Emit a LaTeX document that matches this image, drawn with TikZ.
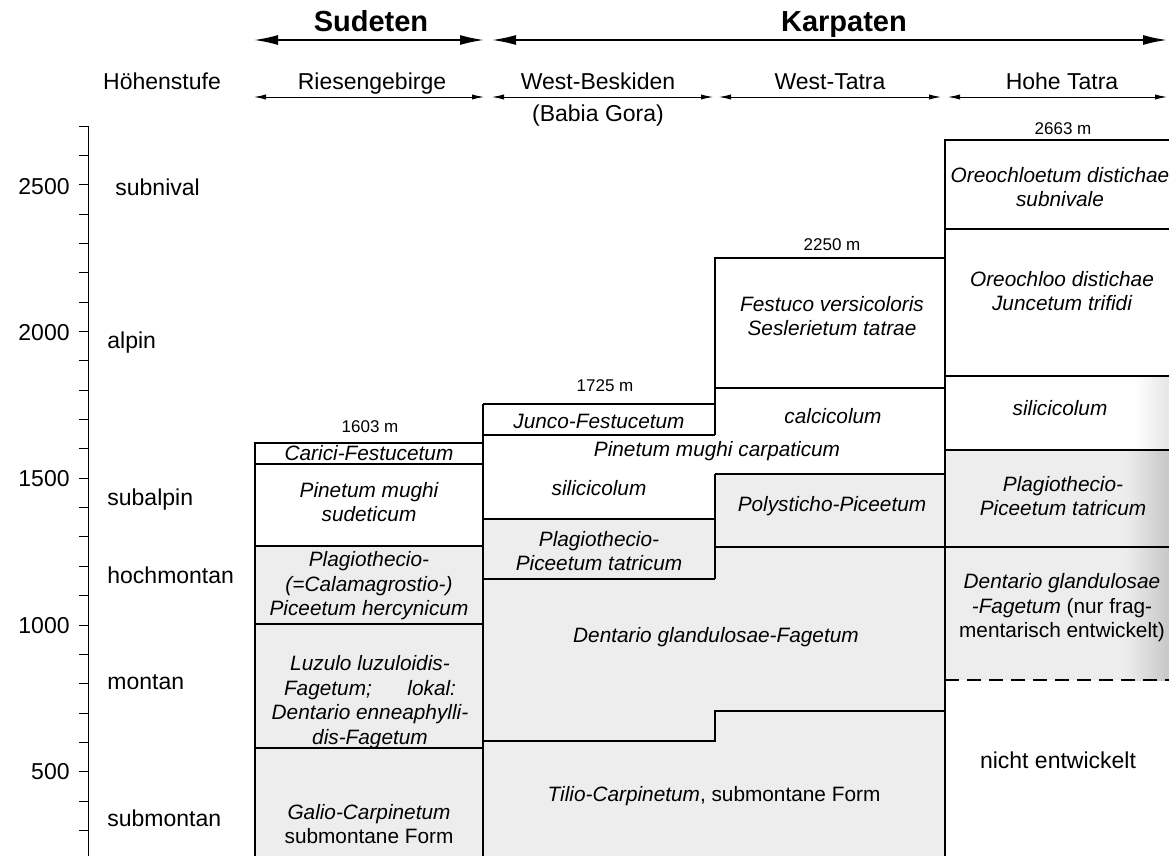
\documentclass[tikz,border=0pt]{standalone}
\usepackage{fontspec}
\setmainfont{Liberation Sans}
\usetikzlibrary{arrows.meta}

\tikzset{
  veg/.style={font=\fontsize{10.4}{12.3}\selectfont\itshape, align=center, inner sep=0pt},
  plain/.style={font=\fontsize{11.5}{14}\selectfont, inner sep=0pt, text height=8.4pt, text depth=2.4pt},
  peak/.style={font=\fontsize{8.5}{10}\selectfont, inner sep=0pt},
  region/.style={font=\fontsize{14.5}{17}\selectfont\bfseries, inner sep=0pt, text height=10.6pt, text depth=3pt},
  bigarrow/.style={{Latex[length=12pt,width=5pt]}-{Latex[length=12pt,width=5pt]}, line width=0.9pt},
  smallarrow/.style={{Latex[length=6pt,width=2.6pt]}-{Latex[length=6pt,width=2.6pt]}, line width=0.45pt},
  grid/.style={line width=0.8pt},
  zone/.style={fill=black!7},
}

\begin{document}
\begin{tikzpicture}[x=0.5pt,y=-0.5pt]
\useasboundingbox (0,0) rectangle (1169,856);

% stippled forest zones
\fill[zone] (255,546) rectangle (483,856);
\fill[zone] (483,519) -- (715,519) -- (715,474) -- (945,474) -- (945,856) -- (483,856) -- cycle;
\fill[zone] (945,450) rectangle (1169,680);
\shade[left color=black!7, right color=black!22] (1125,450) rectangle (1169,680);
\shade[left color=white, right color=black!10] (1135,376) rectangle (1169,450);

% header
\node[region] (sud) at (371,24) {Sudeten};
\node[region] (karp) at (844,24) {Karpaten};
\coordinate (sudL) at (254,40);
\coordinate (sudR) at (484,40);
\coordinate (karL) at (492,40);
\coordinate (karR) at (1167,40);
\draw[bigarrow] (sudL) -- (sudR);
\draw[bigarrow] (karL) -- (karR);

\node[plain] (hoehe) at (162,84) {Höhenstufe};
\node[plain] (ries) at (372,84) {Riesengebirge};
\node[plain] (wbes) at (598,84) {West-Beskiden};
\node[plain] (babia) at (598,116) {(Babia Gora)};
\node[plain] (wtat) at (830,84) {West-Tatra};
\node[plain] (htat) at (1062,84) {Hohe Tatra};
\coordinate (riesL) at (254,97);
\coordinate (riesR) at (484,97);
\coordinate (wbesL) at (492,97);
\coordinate (wbesR) at (713,97);
\coordinate (wtatL) at (719,97);
\coordinate (wtatR) at (941,97);
\coordinate (htatL) at (948,97);
\coordinate (htatR) at (1167,97);
\draw[smallarrow] (riesL) -- (riesR);
\draw[smallarrow] (wbesL) -- (wbesR);
\draw[smallarrow] (wtatL) -- (wtatR);
\draw[smallarrow] (htatL) -- (htatR);

% altitude axis
\draw[line width=0.5pt] (88,126) -- (88,856);
\foreach \h in {300,400,...,2700}
  \draw[line width=0.5pt] (79,{625-(\h-1000)*0.2935}) -- (88,{625-(\h-1000)*0.2935});
\foreach \h in {500,1000,...,2500}
  \node[plain, anchor=east] (alt\h) at (70,{627-(\h-1000)*0.2925}) {\h};

\node[plain, anchor=west] (subniv) at (115,190) {subnival};
\node[plain, anchor=west] (alpin) at (107,343) {alpin};
\node[plain, anchor=west] (subalp) at (107,499) {subalpin};
\node[plain, anchor=west] (hochm) at (107,577) {hochmontan};
\node[plain, anchor=west] (mont) at (107,683) {montan};
\node[plain, anchor=west] (submont) at (107,820) {submontan};

% Riesengebirge
\draw[grid] (255,856) -- (255,443) -- (483,443);
\draw[grid] (255,464) -- (483,464);
\draw[grid] (255,546) -- (483,546);
\draw[grid] (255,624) -- (483,624);
\draw[grid] (255,748) -- (483,748);
\draw[grid] (483,404) -- (483,856);
\node[peak] (pkries) at (370,427) {1603 m};
\node[veg] (carici) at (369,453) {Carici-Festucetum};
\node[veg] (pinsud) at (369,502) {Pinetum mughi\\sudeticum};
\node[veg] (plaghc) at (369,586) {Plagiothecio-\\(=Calamagrostio-)\\Piceetum hercynicum};
\node[veg] (luzulo) at (370,702) {Luzulo luzuloidis-\\\makebox[86pt]{Fagetum;\hfill lokal:}\\Dentario enneaphylli-\\dis-Fagetum};
\node[veg] (galio) at (369,824) {Galio-Carpinetum\\\upshape submontane Form};

% West-Beskiden
\draw[grid] (483,404) -- (715,404);
\draw[grid] (715,435) -- (715,258) -- (945,258);
\draw[grid] (483,435) -- (715,435);
\draw[grid] (483,519) -- (715,519);
\draw[grid] (483,579) -- (715,579);
\draw[grid] (715,474) -- (715,579);
\draw[grid] (483,741) -- (715,741) -- (715,711) -- (945,711);
\node[peak] (pkbes) at (605,386) {1725 m};
\node[veg] (junco) at (599,421) {Junco-Festucetum};
\node[veg] (pincarp) at (717,451) {Pinetum mughi carpaticum};
\node[veg] (silic) at (599,488) {silicicolum};
\node[veg] (plagtb) at (599,551) {Plagiothecio-\\Piceetum tatricum};
\node[veg] (dentb) at (716,637) {Dentario glandulosae-Fagetum};
\node[veg] (tilio) at (714,796) {Tilio-Carpinetum\upshape, submontane Form};

% West-Tatra
\draw[grid] (715,388) -- (945,388);
\draw[grid] (715,474) -- (945,474);
\draw[grid] (715,547) -- (1169,547);
\node[peak] (pkwt) at (832,245) {2250 m};
\node[veg] (festuco) at (832,316) {Festuco versicoloris\\Seslerietum tatrae};
\node[veg] (calc) at (833,416) {calcicolum};
\node[veg] (polyst) at (832,506) {Polysticho-Piceetum};

% Hohe Tatra
\draw[grid] (945,856) -- (945,140) -- (1169,140);
\draw[grid] (945,229) -- (1169,229);
\draw[grid] (945,376) -- (1169,376);
\draw[grid] (945,450) -- (1169,450);
\draw[grid, dash pattern=on 7pt off 4pt] (945,680) -- (1169,680);
\node[peak] (pkht) at (1063,129) {2663 m};
\node[veg] (oreosub) at (1060,187) {Oreochloetum distichae\\subnivale};
\node[veg] (oreojunc) at (1062,291) {Oreochloo distichae\\Juncetum trifidi};
\node[veg] (silht) at (1060,408) {silicicolum};
\node[veg] (plaght) at (1063,496) {Plagiothecio-\\Piceetum tatricum};
\node[veg] (dentht) at (1062,608) {Dentario glandulosae\\-Fagetum \upshape(nur frag-\\\upshape mentarisch entwickelt)};
\node[plain] (nicht) at (1058,762) {nicht entwickelt};
\end{tikzpicture}
\end{document}
